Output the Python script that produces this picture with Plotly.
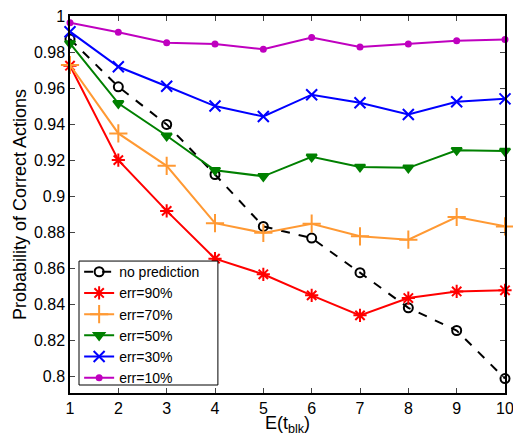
import plotly.graph_objects as go

x = [1, 2, 3, 4, 5, 6, 7, 8, 9, 10]
no_pred = [0.9872, 0.9607, 0.9398, 0.9120, 0.8832, 0.8767, 0.8575, 0.8380, 0.8254, 0.7987]
err90 = [0.9724, 0.9200, 0.8918, 0.8653, 0.8566, 0.8449, 0.8338, 0.8434, 0.8471, 0.8477]
err70 = [0.9728, 0.9348, 0.9168, 0.8850, 0.8796, 0.8847, 0.8777, 0.8758, 0.8884, 0.8832]
err50 = [0.9848, 0.9515, 0.9335, 0.9144, 0.9110, 0.9218, 0.9162, 0.9157, 0.9255, 0.9250]
err30 = [0.9913, 0.9718, 0.9610, 0.9500, 0.9442, 0.9563, 0.9518, 0.9453, 0.9524, 0.9540]
err10 = [0.9963, 0.9910, 0.9852, 0.9844, 0.9815, 0.9880, 0.9828, 0.9844, 0.9863, 0.9870]

y_ticks = [0.8, 0.82, 0.84, 0.86, 0.88, 0.9, 0.92, 0.94, 0.96, 0.98, 1.0]
y_tick_labels = ["0.8", "0.82", "0.84", "0.86", "0.88", "0.9", "0.92", "0.94", "0.96", "0.98", "1"]

series = [
    ("no prediction", no_pred, "black", "circle-open", 9, "dash"),
    ("err=90%", err90, "#FF0000", "asterisk-open", 11, "solid"),
    ("err=70%", err70, "#FF9933", "cross-thin-open", 13, "solid"),
    ("err=50%", err50, "#008000", "triangle-down", 9, "solid"),
    ("err=30%", err30, "#0000FF", "x-thin-open", 11, "solid"),
    ("err=10%", err10, "#BF00BF", "circle", 5, "solid"),
]

fig = go.Figure()
for name, ys, color, sym, size, dash in series:
    fig.add_trace(go.Scatter(
        x=x, y=ys, name=name, mode="lines+markers",
        line=dict(color=color, width=2, dash=dash),
        marker=dict(symbol=sym, size=size, color=color,
                    line=dict(color=color, width=2)),
        cliponaxis=False,
    ))

# legend frame (drawn as a shape so the box can be tighter than plotly's padding)
fig.add_shape(type="rect", xref="paper", yref="paper",
              x0=0.0207, x1=0.340, y0=0.0212, y1=0.350,
              line=dict(color="black", width=1), fillcolor="white", layer="above")

font = "Liberation Sans, Arial, sans-serif"
fig.update_layout(
    width=513, height=436,
    margin=dict(l=70, r=8, t=16, b=43, autoexpand=False),
    paper_bgcolor="white", plot_bgcolor="white",
    font=dict(family=font, size=16, color="black"),
    showlegend=True,
    legend=dict(x=0.021, y=0.363, xanchor="left", yanchor="top",
                bgcolor="rgba(0,0,0,0)", borderwidth=0,
                font=dict(size=14), tracegroupgap=0, itemwidth=30),
    xaxis=dict(range=[1, 10], tickvals=x, ticks="inside", ticklen=5,
               showline=True, linecolor="black", linewidth=1.5, mirror="ticks",
               showgrid=False, zeroline=False, tickfont=dict(size=16),
               ticklabeloverflow="allow",
               title=dict(text="E(t<sub>blk</sub>)", font=dict(size=18), standoff=0)),
    yaxis=dict(range=[0.7907, 1.0], tickvals=y_ticks, ticktext=y_tick_labels,
               ticks="inside", ticklen=5,
               showline=True, linecolor="black", linewidth=1.5, mirror="ticks",
               showgrid=False, zeroline=False, tickfont=dict(size=16),
               title=dict(text="Probability of Correct Actions", font=dict(size=18), standoff=3)),
)

fig.write_html("out.html", config={"displayModeBar": False},
               post_script="document.body.style.margin='0';document.body.style.overflow='hidden';")
